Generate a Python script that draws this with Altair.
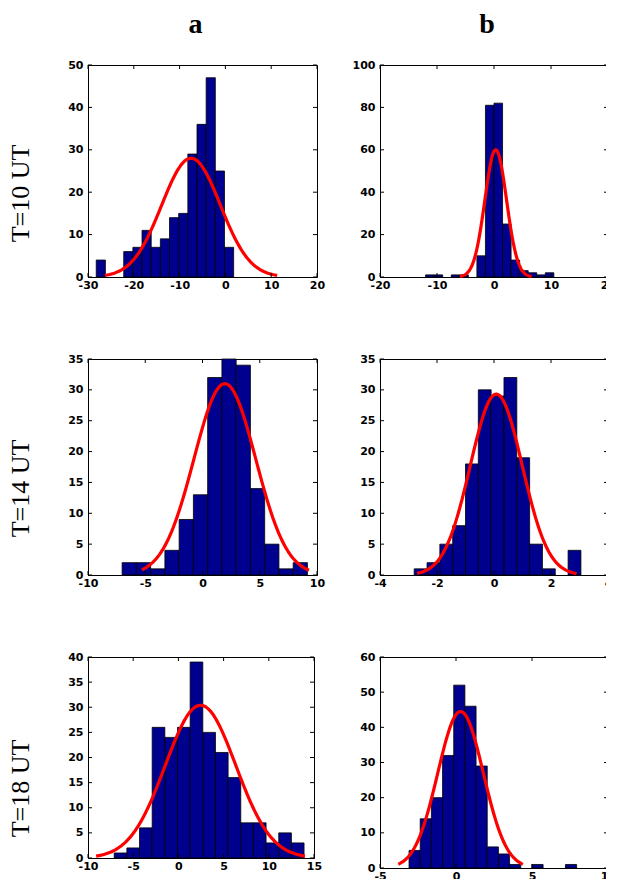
import numpy as np
import pandas as pd
import altair as alt

# ---------------- data ----------------
# histogram: first bin edge, bin width, counts per bin
A1_START, A1_BIN = -28.2, 2.0
A1_COUNTS = [4, 0, 0, 6, 7, 11, 7, 9, 14, 15, 29, 36, 47, 25, 7]
B1_START, B1_BIN = -12.0, 1.5
B1_COUNTS = [1, 1, 0, 1, 1, 0, 10, 81, 82, 25, 8, 3, 2, 1, 2]
A2_START, A2_BIN = -7.02, 1.245
A2_COUNTS = [2, 2, 1, 4, 9, 13, 32, 35, 34, 14, 5, 1, 2]
B2_START, B2_BIN = -2.8, 0.45
B2_COUNTS = [1, 2, 5, 8, 18, 30, 29, 32, 19, 5, 1, 0, 4]
A3_START, A3_BIN = -7.1, 1.4
A3_COUNTS = [1, 2, 6, 26, 24, 26, 39, 25, 21, 16, 7, 7, 3, 5, 3]
B3_START, B3_BIN = -3.09, 0.735
B3_COUNTS = [5, 14, 20, 32, 52, 46, 29, 6, 4, 1, 0, 1, 0, 0, 1]

# fitted normal curve: mean, sigma, peak height, drawn from, drawn to
A1_FIT = [-7.5, 6.4, 28.0, -26.3, 11.3]
B1_FIT = [0.3, 1.9, 60.0, -6.0, 6.6]
A2_FIT = [1.95, 2.7, 31.0, -5.3, 9.3]
B2_FIT = [0.08, 0.91, 29.3, -2.7, 2.9]
A3_FIT = [2.45, 3.9, 30.4, -9.1, 14.0]
B3_FIT = [0.3, 1.5, 44.5, -3.8, 4.4]

# axes
A1_XDOM, A1_XTICKS = [-30, 20], [-30, -20, -10, 0, 10, 20]
A1_YDOM, A1_YTICKS = [0, 50], [0, 10, 20, 30, 40, 50]
B1_XDOM, B1_XTICKS = [-20, 20], [-20, -10, 0, 10, 20]
B1_YDOM, B1_YTICKS = [0, 100], [0, 20, 40, 60, 80, 100]
A2_XDOM, A2_XTICKS = [-10, 10], [-10, -5, 0, 5, 10]
A2_YDOM, A2_YTICKS = [0, 35], [0, 5, 10, 15, 20, 25, 30, 35]
B2_XDOM, B2_XTICKS = [-4, 4], [-4, -2, 0, 2, 4]
B2_YDOM, B2_YTICKS = [0, 35], [0, 5, 10, 15, 20, 25, 30, 35]
A3_XDOM, A3_XTICKS = [-10, 15], [-10, -5, 0, 5, 10, 15]
A3_YDOM, A3_YTICKS = [0, 40], [0, 5, 10, 15, 20, 25, 30, 35, 40]
B3_XDOM, B3_XTICKS = [-5, 10], [-5, 0, 5, 10]
B3_YDOM, B3_YTICKS = [0, 60], [0, 10, 20, 30, 40, 50, 60]

COL_TITLES = ["a", "b"]
ROW_TITLES = ["T=10 UT", "T=14 UT", "T=18 UT"]

BAR_COLOR = "#00008F"
FIT_COLOR = "#FF0000"
TICK_LEN = 4


def panel(counts, start, binw, fit, xdom, xticks, ydom, yticks, W, H,
          col_title=None, row_title=None, row_title_y=0):
    edges = start + binw * np.arange(len(counts) + 1)
    bars = pd.DataFrame({"x": edges[:-1], "x2": edges[1:], "y": counts})
    bars = bars[bars["y"] > 0]

    mu, sd, peak, x0, x1 = fit
    xs_curve = np.linspace(x0, x1, 150)
    curve = pd.DataFrame({"x": xs_curve,
                          "y": peak * np.exp(-0.5 * ((xs_curve - mu) / sd) ** 2)})

    xsc = alt.Scale(domain=xdom, nice=False, zero=False)
    ysc = alt.Scale(domain=ydom, nice=False, zero=False)

    xaxis = alt.Axis(values=xticks, labelExpr="'' + datum.value")
    if row_title:
        yaxis = alt.Axis(values=yticks, labelExpr="'' + datum.value",
                         titleFont="Liberation Serif", titleFontSize=26,
                         titleFontWeight="normal", titleColor="black",
                         titleAngle=270, titleAlign="center",
                         titleBaseline="alphabetic", titleX=-60, titleY=row_title_y)
        ytitle = row_title
    else:
        yaxis = alt.Axis(values=yticks, labelExpr="'' + datum.value")
        ytitle = None

    def X():
        return alt.X("x:Q", scale=xsc, axis=xaxis, title=None)

    def Y():
        return alt.Y("y:Q", scale=ysc, axis=yaxis, title=ytitle)

    bar_layer = alt.Chart(bars).mark_rect(
        color=BAR_COLOR, stroke="black", strokeWidth=0.8
    ).encode(x=X(), x2="x2:Q", y=Y(), y2=alt.datum(0))
    fit_layer = alt.Chart(curve).mark_line(
        color=FIT_COLOR, strokeWidth=3.2
    ).encode(x=X(), y=Y())
    xt = pd.DataFrame({"x": xticks})
    yt = pd.DataFrame({"y": yticks})
    bottom = alt.Chart(xt).mark_rule(color="black").encode(
        x=X(), y=alt.value(H), y2=alt.value(H - TICK_LEN))
    top = alt.Chart(xt).mark_rule(color="black").encode(
        x=X(), y=alt.value(0), y2=alt.value(TICK_LEN))
    left = alt.Chart(yt).mark_rule(color="black").encode(
        y=Y(), x=alt.value(0), x2=alt.value(TICK_LEN))
    right = alt.Chart(yt).mark_rule(color="black").encode(
        y=Y(), x=alt.value(W - TICK_LEN), x2=alt.value(W))

    props = dict(width=W, height=H)
    if col_title:
        props["title"] = alt.TitleParams(
            col_title, font="Liberation Serif", fontSize=28, fontWeight="bold",
            color="black", anchor="middle", frame="group", baseline="alphabetic",
            offset=-2, dx=-7)
    return alt.layer(bar_layer, fit_layer, bottom, top, left, right).properties(**props)


WL, WR = 229, 228
a1 = panel(A1_COUNTS, A1_START, A1_BIN, A1_FIT, A1_XDOM, A1_XTICKS, A1_YDOM, A1_YTICKS,
           WL, 212, col_title=COL_TITLES[0], row_title=ROW_TITLES[0], row_title_y=128)
b1 = panel(B1_COUNTS, B1_START, B1_BIN, B1_FIT, B1_XDOM, B1_XTICKS, B1_YDOM, B1_YTICKS,
           WR, 212, col_title=COL_TITLES[1])
a2 = panel(A2_COUNTS, A2_START, A2_BIN, A2_FIT, A2_XDOM, A2_XTICKS, A2_YDOM, A2_YTICKS,
           WL, 216, row_title=ROW_TITLES[1], row_title_y=129)
b2 = panel(B2_COUNTS, B2_START, B2_BIN, B2_FIT, B2_XDOM, B2_XTICKS, B2_YDOM, B2_YTICKS,
           WR, 216)
a3 = panel(A3_COUNTS, A3_START, A3_BIN, A3_FIT, A3_XDOM, A3_XTICKS, A3_YDOM, A3_YTICKS,
           226, 201, row_title=ROW_TITLES[2], row_title_y=131)
b3 = panel(B3_COUNTS, B3_START, B3_BIN, B3_FIT, B3_XDOM, B3_XTICKS, B3_YDOM, B3_YTICKS,
           WR, 211)

chart = alt.concat(a1, b1, a2, b2, a3, b3, columns=2).properties(
    spacing={"row": 82, "column": 63},
    bounds="flush",
    align="each",
    padding={"left": -2, "top": 2, "right": -11, "bottom": 0},
    background="white",
).configure_view(
    stroke="black", strokeWidth=1
).configure_axis(
    grid=False, ticks=False, tickSize=0, domain=True, domainColor="black",
    domainWidth=1, labelFont="DejaVu Sans", labelFontWeight="bold",
    labelFontSize=11, labelColor="black", labelOverlap=False,
    labelFlush=False, labelBound=False
).configure_axisX(
    labelPadding=2
).configure_axisY(
    labelPadding=5
)

chart.save("out.html", embed_options={"renderer": "svg", "actions": False})
